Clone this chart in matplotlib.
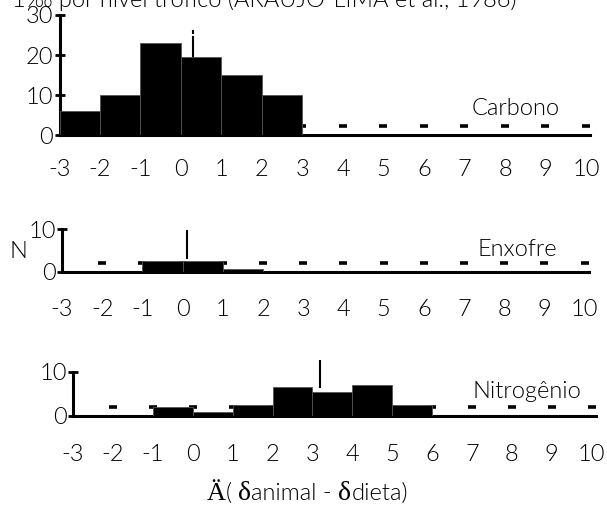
import matplotlib
matplotlib.use("Agg")
import matplotlib.pyplot as plt
import matplotlib.transforms as mtransforms
import numpy as np

plt.rcParams['font.family'] = ['Lato', 'DejaVu Sans']
plt.rcParams['font.weight'] = 300

# valores (N por classe de fracionamento)
xticks = list(range(-3, 11))

edges_c = [-3, -2, -1, 0, 1, 2, 3]
n_c = [6, 10, 23, 19.5, 15, 10]
yticks_c = [0, 10, 20, 30]

edges_s = [-1, 0, 1, 2]
n_s = [2.5, 2.5, 0.7]

edges_n = [-1, 0, 1, 2, 3, 4, 5, 6]
n_n = [2, 1, 2.5, 6.5, 5.5, 7, 2.5]
yticks_sn = [0, 10]

mean_c, mean_s, mean_n = 0.3, 0.1, 3.2

W, H = 607, 514
FS = 17
fig = plt.figure(figsize=(W / 100, H / 100), dpi=100)


def px_rect(x0, y_top, x1, y_base):
    return [x0 / W, 1 - y_base / H, (x1 - x0) / W, (y_base - y_top) / H]


def panel(rect, edges, counts, yticks, ylim, label, lab_pos, mean, stem, dot, xpad):
    ax = fig.add_axes(rect)
    ax.bar(edges[:-1], counts, width=np.diff(edges), align='edge',
           color='black', edgecolor='#555555', linewidth=0.6, zorder=3)
    # tracinhos nos inteiros, um pouco acima da linha de base
    off = mtransforms.offset_copy(ax.transData, fig=fig, x=0, y=9, units='dots')
    ax.plot(xticks[1:], [0] * len(xticks[1:]), ls='none', marker='_', ms=6,
            mew=2.6, color='black', transform=off, zorder=2, clip_on=False)
    # marca da media
    bt = mtransforms.blended_transform_factory(ax.transData, ax.transAxes)
    ax.plot([mean, mean], stem, color='black', lw=1.5, transform=bt, clip_on=False)
    ax.plot([mean, mean], dot, color='black', lw=1.5, transform=bt, clip_on=False)

    ax.set_xlim(-3, 10.1)
    ax.set_ylim(*ylim)
    ax.set_xticks(xticks, labels=[str(t) for t in xticks])
    ax.set_yticks(yticks, labels=[str(t) for t in yticks])
    ax.tick_params(axis='x', length=0, pad=xpad, labelsize=FS)
    ax.tick_params(axis='y', direction='inout', length=7, width=2, pad=1, labelsize=FS)
    for s in ['top', 'right']:
        ax.spines[s].set_visible(False)
    for s in ['left', 'bottom']:
        ax.spines[s].set_linewidth(2.2)
    ax.text(lab_pos[0], lab_pos[1], label, transform=ax.transAxes,
            ha='center', va='center', fontsize=FS)
    ax.patch.set_alpha(0)
    return ax


panel(px_rect(59.5, 15, 590, 135), edges_c, n_c, yticks_c, (0, 30),
      'Carbono', (0.859, 0.22), mean_c, (0.63, 0.82), (0.85, 0.87), 17.3)
panel(px_rect(62, 229, 588.6, 272), edges_s, n_s, yticks_sn, (0, 10),
      'Enxofre', (0.864, 0.53), mean_s, (0.33, 0.86), (0.90, 0.95), 19.4)
panel(px_rect(73, 371.7, 595.7, 416), edges_n, n_n, yticks_sn, (0, 10),
      'Nitrogênio', (0.869, 0.55), mean_n, (0.65, 1.15), (1.19, 1.25), 20.2)

fig.text(18 / W, 1 - 252 / H, 'N', ha='center', va='center', fontsize=FS)
fig.text(12 / W, 1 - 7 / H, '1‰ por nível trófico (ARAÚJO-LIMA et al., 1986)',
         ha='left', va='baseline', fontsize=FS)

# rotulo do eixo x, montado em pedacos
pieces = [('Ä', 'Liberation Serif', 'normal', 19), ('( ', None, 300, FS),
          ('δ', 'Liberation Serif', 'normal', 20), ('animal - ', None, 300, FS),
          ('δ', 'Liberation Serif', 'normal', 20), ('dieta)', None, 300, FS)]
renderer = fig.canvas.get_renderer()
x = 207
for s, fam, wt, fs in pieces:
    kw = {'family': fam} if fam else {}
    t = fig.text(x / W, 1 - 500 / H, s, ha='left', va='baseline',
                 fontsize=fs, weight=wt, **kw)
    x = t.get_window_extent(renderer=renderer).x1

fig.savefig('out.png', dpi=100)
